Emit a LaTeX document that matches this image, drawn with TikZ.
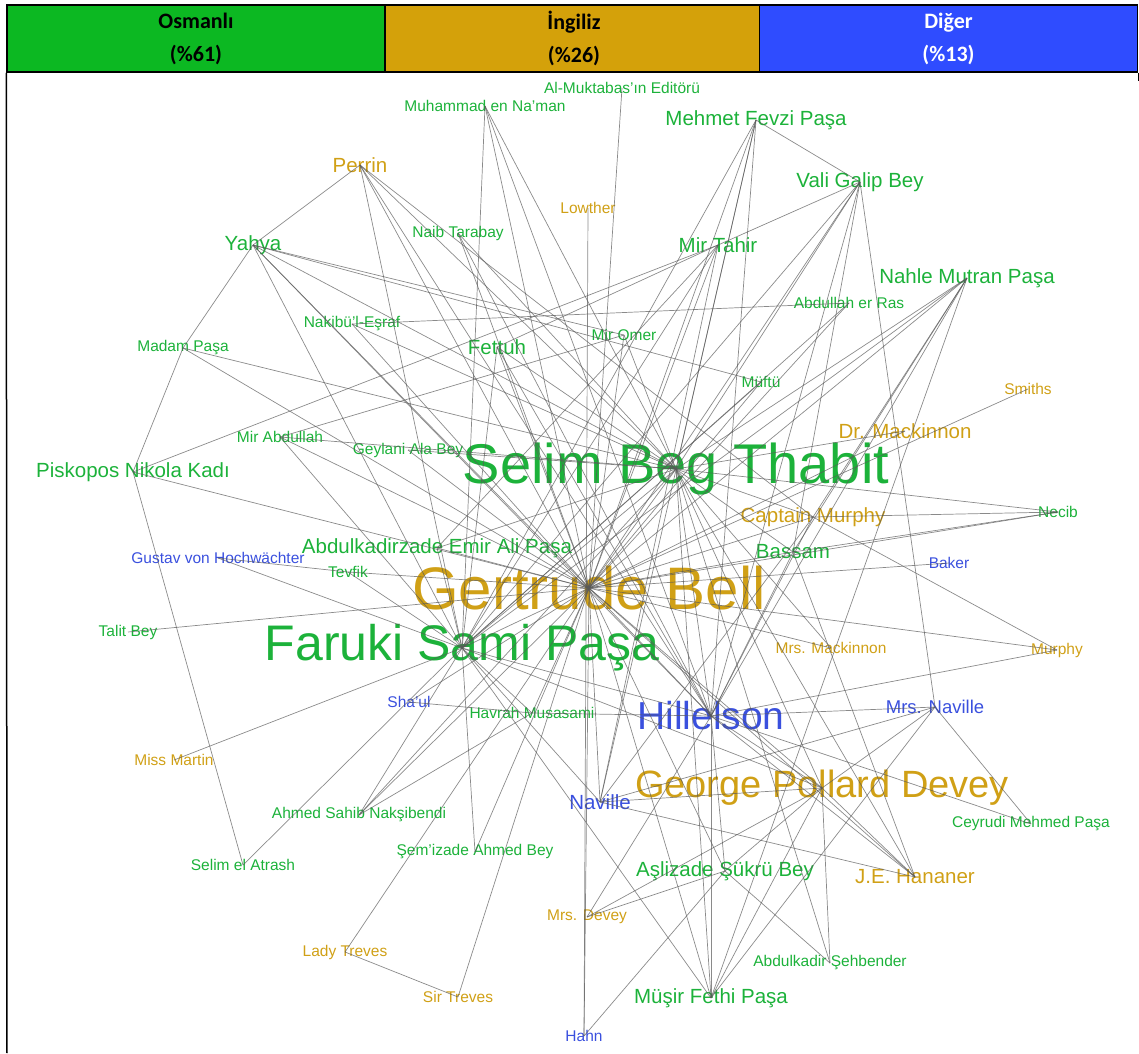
\documentclass[tikz,border=0pt]{standalone}
\usepackage{fontspec}
\setmainfont{Liberation Sans}
\newfontfamily\headfont{Carlito}
\definecolor{osmhead}{RGB}{12,184,34}
\definecolor{inghead}{RGB}{212,161,10}
\definecolor{dighead}{RGB}{47,76,255}
\definecolor{osmtext}{RGB}{28,178,58}
\definecolor{ingtext}{RGB}{208,160,22}
\definecolor{digtext}{RGB}{58,80,222}

\begin{document}
\begin{tikzpicture}[x=1pt,y={(0pt,-1pt)},
    cell/.style={draw=black,line width=1.5pt,inner sep=0pt,minimum width=378pt,
      minimum height=67pt,align=center,font=\headfont\bfseries\fontsize{22}{33}\selectfont},
    osm/.style={inner sep=0pt,text=osmtext},
    ing/.style={inner sep=0pt,text=ingtext},
    dig/.style={inner sep=0pt,text=digtext},
    sm/.style={font=\fontsize{15.5}{16}\selectfont},
    md/.style={font=\fontsize{20.5}{22}\selectfont},
    edge/.style={draw=black!65,line width=0.7pt,opacity=0.7}]

    \useasboundingbox (0,0) rectangle (1139,1053);

    % header
    \node[cell,fill=osmhead] (hosm) at (196,38.5) {Osmanlı\\(\%61)};
    \node[cell,fill=inghead] (hing) at (574,38.5) {İngiliz\\(\%26)};
    \node[cell,fill=dighead,text=white] (hdig) at (948.5,38.5) {Diğer\\(\%13)};
    \draw[line width=1.5pt] (hosm.south west) -- (7,1053);
    \draw[line width=1.5pt] (hdig.south east) -- ++(0,8);

    % Osmanli
    \node[osm,sm] (edit) at (622,88) {Al-Muktabas'ın Editörü};
    \node[osm,sm] (naman) at (485,106) {Muhammad en Na'man};
    \node[osm,md] (mfp) at (756,120) {Mehmet Fevzi Paşa};
    \node[osm,md] (vgb) at (860,182) {Vali Galip Bey};
    \node[osm,md] (yahya) at (253,245) {Yahya};
    \node[osm,sm] (naib) at (458,233) {Naib Tarabay};
    \node[osm,md] (mtahir) at (718,245) {Mir Tahir};
    \node[osm,md] (nmp) at (967,278) {Nahle Mutran Paşa};
    \node[osm,sm] (ras) at (849,303) {Abdullah er Ras};
    \node[osm,sm] (nakib) at (352,324) {Nakibü'l-Eşraf};
    \node[osm,sm] (madam) at (183,348) {Madam Paşa};
    \node[osm,md] (fettuh) at (497,347) {Fettuh};
    \node[osm,sm] (momer) at (624,335) {Mir Omer};
    \node[osm,sm] (muftu) at (761,382) {Müftü};
    \node[osm,sm] (mabd) at (280,437) {Mir Abdullah};
    \node[osm,sm] (geylani) at (408,450) {Geylani Ala Bey};
    \node[osm,md] (pnk) at (133,472) {Piskopos Nikola Kadı};
    \node[osm,font=\fontsize{56}{60}\selectfont] (sbt) at (676,469) {Selim Beg Thabit};
    \node[osm,md] (aea) at (437,548) {Abdulkadirzade Emir Ali Paşa};
    \node[osm,md] (bassam) at (793,552) {Bassam};
    \node[osm,sm] (tevfik) at (348,572) {Tevfik};
    \node[osm,font=\fontsize{50}{54}\selectfont] (fsp) at (462,648) {Faruki Sami Paşa};
    \node[osm,sm] (talit) at (128,632) {Talit Bey};
    \node[osm,sm] (havrah) at (532,713) {Havrah Musasami};
    \node[osm,sm] (ahmed) at (359,815) {Ahmed Sahib Nakşibendi};
    \node[osm,sm] (semizade) at (475,852) {Şem'izade Ahmed Bey};
    \node[osm,sm] (atrash) at (243,865) {Selim el Atrash};
    \node[osm,md] (asli) at (725,871) {Aşlizade Şükrü Bey};
    \node[osm,sm] (ceyrudi) at (1031,824) {Ceyrudi Mehmed Paşa};
    \node[osm,sm] (sehbender) at (830,963) {Abdulkadir Şehbender};
    \node[osm,md] (musir) at (711,998) {Müşir Fethi Paşa};
    \node[osm,sm] (necib) at (1058,512) {Necib};

    % Ingiliz
    \node[ing,md] (perrin) at (360,165) {Perrin};
    \node[ing,sm] (lowther) at (588,208) {Lowther};
    \node[ing,sm] (smiths) at (1028,389) {Smiths};
    \node[ing,md] (drmack) at (905,431) {Dr. Mackinnon};
    \node[ing,md] (cmurphy) at (813,517) {Captain Murphy};
    \node[ing,font=\fontsize{60}{64}\selectfont] (gb) at (589,588) {Gertrude Bell};
    \node[ing,sm] (mrsmack) at (831,648) {Mrs. Mackinnon};
    \node[ing,sm] (murphy) at (1057,650) {Murphy};
    \node[ing,font=\fontsize{38}{42}\selectfont] (gpd) at (822,788) {George Pollard Devey};
    \node[ing,sm] (martin) at (174,760) {Miss Martin};
    \node[ing,md] (jeh) at (915,877) {J.E. Hananer};
    \node[ing,sm] (mrsdevey) at (587,917) {Mrs. Devey};
    \node[ing,sm] (lady) at (345,952) {Lady Treves};
    \node[ing,sm] (sir) at (458,997) {Sir Treves};

    % Diger
    \node[dig,sm] (gustav) at (218,558) {Gustav von Hochwächter};
    \node[dig,sm] (baker) at (949,563) {Baker};
    \node[dig,sm] (shaul) at (409,702) {Sha'ul};
    \node[dig,font=\fontsize{39}{42}\selectfont] (hil) at (711,716) {Hillelson};
    \node[dig,font=\fontsize{18.5}{20}\selectfont] (mrsnaville) at (935,707) {Mrs. Naville};
    \node[dig,md] (naville) at (600,802) {Naville};
    \node[dig,sm] (hahn) at (584,1036) {Hahn};

    % edges
    \foreach \a/\b in {gb/sbt,gb/fsp,gb/hil,gb/gpd,sbt/fsp,sbt/hil,sbt/gpd,fsp/hil,fsp/gpd,hil/gpd,
        edit/gb,naman/gb,naman/sbt,naman/hil,naman/fsp,
        mfp/vgb,mfp/gb,mfp/fsp,mfp/sbt,mfp/naville,mfp/hil,
        vgb/mtahir,vgb/sbt,vgb/gb,vgb/fsp,vgb/hil,vgb/bassam,vgb/mrsnaville,
        yahya/perrin,yahya/madam,yahya/momer,yahya/sbt,yahya/gb,yahya/fsp,yahya/muftu,yahya/hil,
        naib/gb,naib/hil,naib/sbt,
        mtahir/pnk,mtahir/aea,mtahir/fettuh,mtahir/gb,mtahir/fsp,mtahir/naville,
        nmp/sbt,nmp/gb,nmp/hil,nmp/bassam,nmp/cmurphy,nmp/fsp,nmp/musir,
        ras/nakib,ras/fsp,ras/gb,nakib/gb,nakib/sbt,
        madam/pnk,madam/gb,madam/sbt,
        fettuh/gb,fettuh/fsp,fettuh/sbt,fettuh/hil,
        momer/gb,momer/mabd,momer/sbt,muftu/gb,muftu/fsp,
        mabd/gb,mabd/fsp,mabd/sbt,geylani/sbt,geylani/gb,
        pnk/atrash,pnk/gb,aea/gb,aea/fsp,aea/sbt,
        bassam/gb,bassam/sbt,bassam/necib,bassam/jeh,bassam/hil,
        tevfik/gb,tevfik/fsp,gustav/tevfik,gustav/fsp,talit/gb,
        havrah/hil,havrah/gb,havrah/shaul,havrah/fsp,
        ahmed/fsp,ahmed/gb,ahmed/havrah,ahmed/sbt,semizade/fsp,semizade/gb,atrash/fsp,
        asli/hahn,asli/sehbender,asli/gpd,asli/hil,asli/gb,asli/mrsdevey,
        ceyrudi/mrsnaville,ceyrudi/hil,sehbender/gpd,sehbender/sbt,
        musir/hil,musir/sbt,musir/gb,musir/fsp,musir/gpd,musir/mrsnaville,
        necib/sbt,necib/gb,necib/cmurphy,
        perrin/sbt,perrin/fsp,perrin/gb,perrin/hil,perrin/cmurphy,
        lowther/hahn,smiths/gb,drmack/gb,drmack/sbt,
        cmurphy/murphy,cmurphy/gb,cmurphy/sbt,cmurphy/hil,cmurphy/naville,
        mrsmack/gb,mrsmack/sbt,murphy/gb,murphy/hil,
        gpd/jeh,gpd/mrsdevey,gpd/naville,gpd/mrsnaville,martin/fsp,
        jeh/hil,jeh/gb,jeh/sbt,jeh/naville,mrsdevey/hil,
        lady/sir,lady/gb,sir/gb,baker/gb,shaul/gb,
        mrsnaville/hil,mrsnaville/naville,naville/gb,naville/fsp,hahn/gb}
      \draw[edge] (\a.center) -- (\b.center);
\end{tikzpicture}
\end{document}
